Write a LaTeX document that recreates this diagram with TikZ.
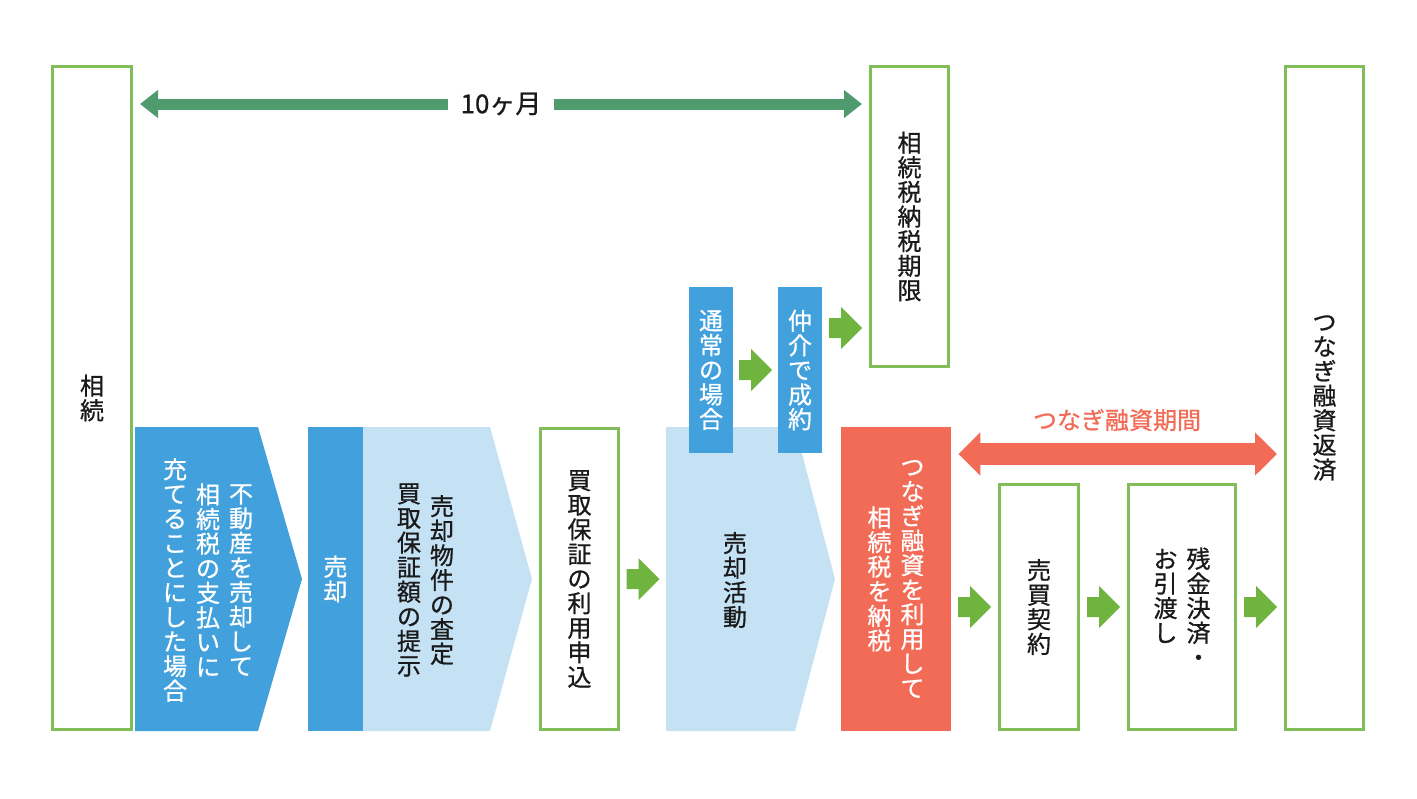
\documentclass[tikz,border=0pt]{standalone}
\usepackage{fontspec}
\setmainfont{Noto Sans CJK JP}[FakeBold=0.8]
\usetikzlibrary{arrows.meta,calc}
\definecolor{boxgreen}{HTML}{80BC58}
\definecolor{arrgreen}{HTML}{6EB43F}
\definecolor{darkgreen}{HTML}{4F9B6D}
\definecolor{dblue}{HTML}{42A1DC}
\definecolor{lblue}{HTML}{C5E2F5}
\definecolor{tred}{HTML}{F26B56}
\definecolor{ink}{HTML}{1A1A1A}
\makeatletter
\newcommand\vlist[1]{\baselineskip=12.3pt\lineskiplimit=-20pt\lineskip=0pt\@tfor\vt@c:=#1\do{\hbox to 12pt{\hss\vt@c\hss}}}
\newcommand\vtext[1]{\vbox{\vlist{#1}}}
\newcommand\vcc[2]{\hbox{$\vcenter{\vlist{#2}}$\hskip4.5pt$\vcenter{\vlist{#1}}$}}
\newcommand\vccc[3]{\hbox{$\vcenter{\vlist{#3}}$\hskip4.5pt$\vcenter{\vlist{#2}}$\hskip4.5pt$\vcenter{\vlist{#1}}$}}
\newcommand\vtt[2]{\hbox{\vtop{\vlist{#2}}\hskip4.5pt\vtop{\vlist{#1}}}}
\makeatother
\tikzset{
  gbox/.style={draw=boxgreen, line width=1.5pt, fill=white, inner sep=0pt, text=ink},
  fbox/.style={inner sep=0pt, text=white},
  ptext/.style={inner sep=0pt},
  barrow/.pic={\fill[arrgreen] (-16.5,-10) -- (-4.5,-10) -- (-4.5,-21) -- (16.5,0) -- (-4.5,21) -- (-4.5,10) -- (-16.5,10) -- cycle;}
}
\begin{document}
\begin{tikzpicture}[x=0.5pt,y=-0.5pt,font=\fontsize{12pt}{14pt}\selectfont,text=ink]
\useasboundingbox (0,0) rectangle (1417,798);
% tall boxes
\node[gbox, minimum width=39.5pt, minimum height=331.5pt] (souzoku) at (92,398) {\vtext{相続}};
\node[gbox, minimum width=39pt, minimum height=150pt] (kigen) at (909.5,216.5) {\vtext{相続税納税期限}};
\node[gbox, minimum width=39pt, minimum height=331.5pt] (hensai) at (1324.5,398) {\vtext{つなぎ融資返済}};
% pentagon 1
\fill[dblue] (135,427) -- (258,427) -- (302,579) -- (258,731) -- (135,731) -- cycle;
\node[ptext, text=white] (p1) at (208,580) {\vccc{不動産を売却して}{相続税の支払いに}{充てることにした場合}};
\node[fbox, fill=dblue, minimum width=27.5pt, minimum height=152pt] (baikyaku) at (335.5,579) {\vtext{売却}};
% pentagon 2
\fill[lblue] (363,427) -- (490,427) -- (532,579) -- (490,731) -- (363,731) -- cycle;
\node[ptext] (p2) at (425.5,580) {\vcc{売却物件の査定}{買取保証額の提示}};
\node[gbox, minimum width=39pt, minimum height=150.5pt] (moushikomi) at (579.5,579) {\vtext{買取保証の利用申込}};
% pentagon 3
\fill[lblue] (666,427) -- (795,427) -- (835,579) -- (795,731) -- (666,731) -- cycle;
\coordinate (p3w) at (666,579);
\node[ptext] (katsudou) at (735,580) {\vtext{売却活動}};
\node[fbox, fill=dblue, minimum width=22pt, minimum height=83pt] (tsuujou) at (711,370) {\vtext{通常の場合}};
\node[fbox, fill=dblue, minimum width=22pt, minimum height=83pt] (seiyaku) at (800,370) {\vtext{仲介で成約}};
% red box
\node[fbox, fill=tred, minimum width=55pt, minimum height=152pt] (nouzei) at (896,579) {\vcc{つなぎ融資を利用して}{相続税を納税}};
\node[gbox, minimum width=39.5pt, minimum height=122.5pt] (keiyaku) at (1039,607) {\vtext{売買契約}};
\node[gbox, minimum width=53.5pt, minimum height=122.5pt] (hikiwatashi) at (1182,607) {\vtt{残金決済・}{お引渡し}};
% block arrows
\pic at ($(moushikomi.east)!0.5!(p3w)$) {barrow};
\pic at ($(tsuujou.east)!0.5!(seiyaku.west)$) {barrow};
\pic at (845.5,328) {barrow};
\pic at ($(nouzei.east |- keiyaku.west)!0.5!(keiyaku.west)$) {barrow};
\pic at ($(keiyaku.east)!0.5!(hikiwatashi.west)$) {barrow};
\pic at ($(hikiwatashi.east)!0.5!(hensai.west |- hikiwatashi.east)$) {barrow};
% top arrow
\coordinate (y1) at (0,104);
\draw[line width=5.5pt, darkgreen, {Triangle[length=9pt,width=13.5pt]}-{Triangle[length=9pt,width=13.5pt]}, shorten <=3.5pt, shorten >=3.5pt]
  (souzoku.east |- y1) -- (kigen.west |- y1) node[pos=0.5, fill=white, inner xsep=6.5pt, inner ysep=3pt, text=ink, font=\fontsize{13pt}{15pt}\selectfont] (months) {10ヶ月};
% red arrow
\coordinate (y2) at (0,454);
\draw[line width=11pt, tred, {Triangle[length=11pt,width=21pt]}-{Triangle[length=11pt,width=21pt]}, shorten <=3.5pt, shorten >=3.5pt]
  (nouzei.east |- y2) -- (hensai.west |- y2);
\node[text=tred, inner sep=0pt] (kikan) at (1117,420) {つなぎ融資期間};
\end{tikzpicture}
\end{document}
